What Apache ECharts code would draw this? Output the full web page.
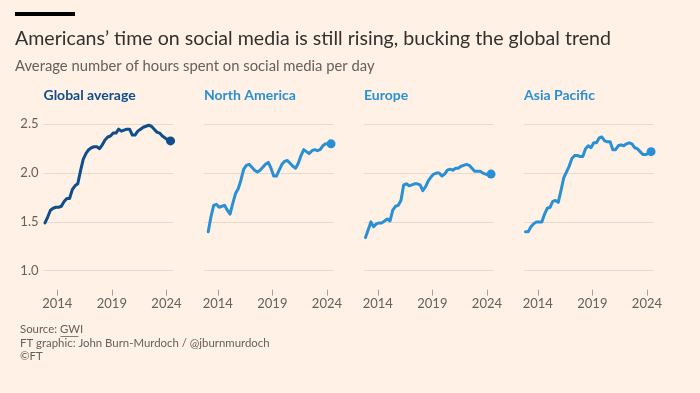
<!DOCTYPE html>
<html><head><meta charset="utf-8">
<script src="https://cdn.jsdelivr.net/npm/echarts@6/dist/echarts.min.js"></script>
<style>html,body{margin:0;padding:0;background:#fff1e5;}#c{width:700px;height:393px;}</style>
</head><body><div id="c"></div>
<script>
const quarters = ['2012 Q4',
 '2013 Q1','2013 Q2','2013 Q3','2013 Q4','2014 Q1','2014 Q2','2014 Q3','2014 Q4',
 '2015 Q1','2015 Q2','2015 Q3','2015 Q4','2016 Q1','2016 Q2','2016 Q3','2016 Q4',
 '2017 Q1','2017 Q2','2017 Q3','2017 Q4','2018 Q1','2018 Q2','2018 Q3','2018 Q4',
 '2019 Q1','2019 Q2','2019 Q3','2019 Q4','2020 Q1','2020 Q2','2020 Q3','2020 Q4',
 '2021 Q1','2021 Q2','2021 Q3','2021 Q4','2022 Q1','2022 Q2','2022 Q3','2022 Q4',
 '2023 Q1','2023 Q2','2023 Q3','2023 Q4','2024 Q1','2024 Q2'];

const globalAverage = [1.49,1.55,1.62,1.64,1.65,1.65,1.66,1.71,1.74,1.74,1.83,1.87,1.89,2.02,2.14,2.20,2.24,
 2.26,2.27,2.27,2.25,2.29,2.34,2.37,2.38,2.41,2.41,2.45,2.43,2.44,2.45,2.45,2.39,
 2.39,2.43,2.45,2.47,2.48,2.49,2.48,2.45,2.42,2.41,2.38,2.36,2.34,2.33];
const northAmerica = [null,1.40,1.55,1.67,1.68,1.65,1.66,1.67,1.62,1.58,1.69,1.79,1.84,1.93,2.04,2.08,2.09,
 2.06,2.03,2.01,2.03,2.06,2.09,2.11,2.05,1.97,1.97,2.03,2.09,2.12,2.13,2.10,2.07,
 2.05,2.10,2.18,2.24,2.22,2.20,2.23,2.24,2.23,2.24,2.28,2.30,2.30,2.30];
const europe = [1.34,1.42,1.50,1.45,1.48,1.49,1.49,1.51,1.53,1.51,1.62,1.66,1.67,1.72,1.88,1.89,1.87,
 1.88,1.89,1.89,1.88,1.82,1.86,1.92,1.96,1.99,2.00,2.00,1.97,1.99,2.03,2.04,2.03,
 2.05,2.05,2.07,2.08,2.09,2.08,2.05,2.02,2.02,2.02,2.00,1.99,1.98,1.99];
const asiaPacific = [1.40,1.40,1.45,1.48,1.50,1.50,1.50,1.58,1.64,1.65,1.71,1.72,1.70,1.82,1.95,2.01,2.07,
 2.15,2.18,2.18,2.17,2.17,2.25,2.28,2.26,2.31,2.31,2.36,2.37,2.33,2.32,2.32,2.24,
 2.24,2.28,2.29,2.28,2.30,2.31,2.30,2.26,2.25,2.22,2.19,2.19,2.20,2.22];

const panelNames = ['Global average','North America','Europe','Asia Pacific'];
const panelSeries = [globalAverage, northAmerica, europe, asiaPacific];
const yTicks = [1.0, 1.5, 2.0, 2.5];
const xTickYears = [2014, 2019, 2024];

const DARK = '#0f4d8c', LIGHT = '#2a90d5';
const panelColors = [DARK, LIGHT, LIGHT, LIGHT];
const lefts = [43.5, 204, 364, 524];

function qToYear(q){ const p = q.split(' Q'); return Number(p[0]) + (Number(p[1]) - 1) / 4 + 0.125; }
const xs = quarters.map(qToYear);

const grids = [], xAxes = [], yAxes = [], series = [], titles = [];
titles.push({text: "Americans\u2019 time on social media is still rising, bucking the global trend", left: 15, top: 29, padding: 0,
  textStyle: {fontFamily: 'Lato', fontSize: 19.6, fontWeight: 'normal', color: '#33302e'}});
titles.push({text: 'Average number of hours spent on social media per day', left: 15, top: 58.5, padding: 0,
  textStyle: {fontFamily: 'Lato', fontSize: 14.8, fontWeight: 'normal', color: '#66605c'}});
panelNames.forEach((name, i) => {
  titles.push({text: name, left: lefts[i], top: 88, padding: 0, textStyle: {fontFamily: 'Lato', fontSize: 14, fontWeight: 'bold', color: panelColors[i]}});
  grids.push({left: lefts[i], top: 124.3, width: 129.5, height: 146.4});
  xAxes.push({type: 'value', gridIndex: i, min: 2012.74, max: 2024.6, offset: 19,
    axisLine: {show: false}, splitLine: {show: false},
    axisTick: {show: true, length: 6, customValues: xTickYears, lineStyle: {color: '#a8a09a'}},
    axisLabel: {show: true, customValues: xTickYears, margin: 8, formatter: v => String(v),
      fontFamily: 'Lato', fontSize: 13, color: '#66605c'}});
  yAxes.push({type: 'value', gridIndex: i, min: yTicks[0], max: yTicks[yTicks.length-1], interval: 0.5,
    axisLine: {show: false}, axisTick: {show: false},
    splitLine: {show: true, lineStyle: {color: '#e9dacd', width: 1}},
    axisLabel: {show: i === 0, margin: 5, formatter: v => v.toFixed(1), fontFamily: 'Lato', fontSize: 13, color: '#66605c'}});
  const data = panelSeries[i].map((v, k) => [xs[k], v]);
  series.push({type: 'line', xAxisIndex: i, yAxisIndex: i, data: data, showSymbol: false,
    lineStyle: {color: panelColors[i], width: 3, cap: 'round', join: 'round'}, silent: true});
  const last = data[data.length - 1];
  series.push({type: 'scatter', xAxisIndex: i, yAxisIndex: i, data: [last], symbolSize: 9,
    itemStyle: {color: panelColors[i], opacity: 1}, silent: true});
});

const chart = echarts.init(document.getElementById('c'), null, {renderer: 'canvas'});
chart.setOption({
  backgroundColor: '#fff1e5',
  animation: false,
  title: titles,
  grid: grids, xAxis: xAxes, yAxis: yAxes, series: series,
  graphic: [
    {type: 'rect', shape: {x: 15, y: 12, width: 60, height: 4}, style: {fill: '#000'}},
    {type: 'text', left: 20, top: 323.5, style: {text: 'Source: GWI', font: '11.4px Lato', fill: '#66605c'}},
    {type: 'line', shape: {x1: 60.5, y1: 336.5, x2: 78.5, y2: 336.5}, style: {stroke: '#66605c', lineWidth: 0.8}},
    {type: 'text', left: 20, top: 337.5, style: {text: 'FT graphic: John Burn-Murdoch / @jburnmurdoch', font: '11.4px Lato', fill: '#66605c'}},
    {type: 'text', left: 20, top: 351, style: {text: '\u00a9FT', font: '11.4px Lato', fill: '#66605c'}}
  ]
});
</script></body></html>
